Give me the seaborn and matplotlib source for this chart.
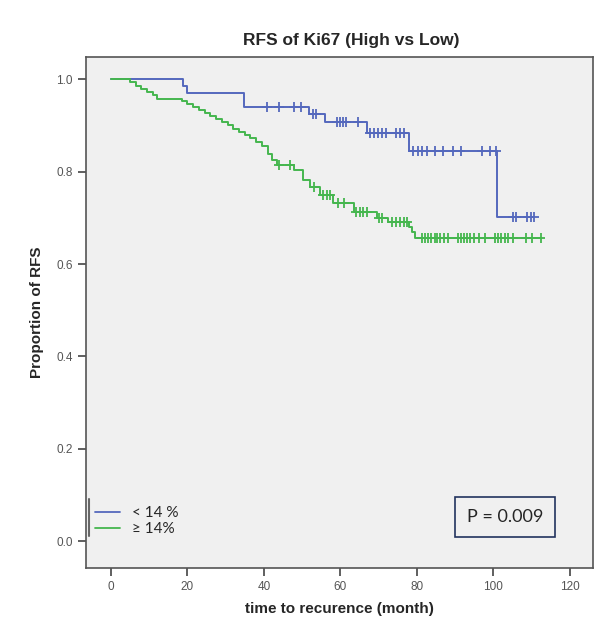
import numpy as np
import pandas as pd
import matplotlib
matplotlib.use("Agg")
import matplotlib.pyplot as plt
import seaborn as sns
from matplotlib.lines import Line2D

# ---- data (months, proportion RFS) ----
low_event_t = [0, 18.8, 19.8, 34.8, 51.8, 56.0, 67.0, 78.0, 101.0]
low_event_s = [1.0, 0.985, 0.970, 0.940, 0.925, 0.908, 0.884, 0.845, 0.702]
low_end = 110.5
low_censor_t = [40.8, 44.0, 47.9, 49.7, 52.8, 53.7, 59.2, 60.0, 60.7, 61.5, 64.6,
                67.8, 68.8, 69.9, 70.9, 72.0, 74.6, 75.7, 76.7,
                79.0, 80.4, 81.4, 82.7, 84.6, 86.9, 89.3, 91.4, 97.1, 99.2, 100.6,
                105.2, 105.8, 108.9, 109.7, 110.5]

high_event_t = [0, 5.0, 6.5, 8.0, 9.5, 11.0, 12.0,
                18.6, 20.0, 21.5, 23.0, 24.5, 26.0, 27.5, 29.0, 30.5, 32.0,
                33.5, 35.0, 36.5, 38.0, 39.5, 41.0, 42.2, 43.4,
                48.0, 50.3, 52.0, 54.7, 58.0, 63.5, 69.5, 72.5, 78.0, 78.8, 79.6]
high_event_s = [1.0, 0.993, 0.986, 0.979, 0.972, 0.965, 0.958,
                0.952, 0.946, 0.940, 0.934, 0.928, 0.921, 0.914, 0.907, 0.900, 0.893,
                0.886, 0.879, 0.872, 0.864, 0.856, 0.838, 0.826, 0.815,
                0.804, 0.782, 0.767, 0.750, 0.732, 0.713, 0.700, 0.691, 0.680, 0.669, 0.657]
high_end = 112.3
high_censor_t = [44.0, 46.9, 53.0, 55.5, 56.5, 57.3, 59.5, 61.0, 64.0, 65.0, 66.0, 67.0,
                 70.0, 71.0, 73.5, 74.5, 75.5, 76.5, 77.3,
                 81.4, 82.2, 83.0, 83.8, 84.6, 85.3, 86.1, 87.2, 88.2, 90.8, 91.6,
                 92.4, 93.2, 94.0, 95.0, 96.1, 97.9, 100.5, 101.3, 102.1, 103.1,
                 103.9, 105.2, 108.4, 110.2, 112.3]

groups = ["< 14 %", "\u2265 14%"]
colors = ["#5468bd", "#45b64e"]
p_text = "P = 0.009"


def curve_frame(label, t, s, end):
    tt = list(t) + [end]
    ss = list(s) + [s[-1]]
    return pd.DataFrame({"time": tt, "surv": ss, "group": label})


def censor_frame(label, t, s, ct):
    idx = np.searchsorted(t, ct, side="right") - 1
    return pd.DataFrame({"time": ct, "surv": np.array(s)[idx], "group": label})


curves = pd.concat([curve_frame(groups[0], low_event_t, low_event_s, low_end),
                    curve_frame(groups[1], high_event_t, high_event_s, high_end)])
censors = pd.concat([censor_frame(groups[0], low_event_t, low_event_s, low_censor_t),
                     censor_frame(groups[1], high_event_t, high_event_s, high_censor_t)])

sns.set_style("white")
plt.rcParams["font.family"] = ["Liberation Sans", "DejaVu Sans"]

fig = plt.figure(figsize=(5.95, 6.30), dpi=100)
ax = fig.add_axes([0.1445, 0.0984, 0.852, 0.811])
ax.set_facecolor("#f0f0f0")

palette = dict(zip(groups, colors))
sns.lineplot(data=curves, x="time", y="surv", hue="group", palette=palette,
             drawstyle="steps-post", estimator=None, linewidth=1.4,
             legend=False, ax=ax)
sns.scatterplot(data=censors, x="time", y="surv", hue="group", palette=palette,
                marker="+", s=50, linewidth=1.3, legend=False, ax=ax)

ax.set_xlim(-6.5, 126)
ax.set_ylim(-0.058, 1.048)
ax.set_xticks(np.arange(0, 121, 20))
ax.set_yticks(np.arange(0, 1.01, 0.2))
ax.set_yticklabels([f"{v:.1f}" for v in np.arange(0, 1.01, 0.2)])
ax.tick_params(axis="both", direction="out", length=6, width=1.2,
               color="#444444", labelcolor="#555555", labelsize=8.5,
               bottom=True, left=True)
for sp in ax.spines.values():
    sp.set_color("#555555")
    sp.set_linewidth(1.2)

ax.set_xlabel("time to recurence (month)", fontsize=11, fontweight="bold",
              labelpad=6)
ax.set_ylabel("Proportion of RFS", fontsize=11, fontweight="bold", labelpad=9)
fig.text(0.59, 0.935, "RFS of Ki67 (High vs Low)", fontsize=12.5,
         fontweight="bold", ha="center", va="center")

handles = [Line2D([], [], color=c, lw=1.3) for c in colors]
leg = ax.legend(handles, groups, loc="lower left", bbox_to_anchor=(0.0, 0.045),
                frameon=False, handlelength=1.6, handletextpad=0.8,
                labelspacing=0.1, borderaxespad=0.2,
                prop={"family": ["Lato", "DejaVu Sans"], "size": 11})
ax.plot([0.006, 0.006], [0.063, 0.135], transform=ax.transAxes,
        color="#666666", lw=1.5, clip_on=False)

ax.text(0.826, 0.1, p_text, transform=ax.transAxes, ha="center", va="center",
        fontsize=13, family=["Lato", "DejaVu Sans"],
        bbox=dict(boxstyle="square,pad=0.65", facecolor="#f0f0f0",
                  edgecolor="#22335e", linewidth=1.2))

fig.savefig("out.png", dpi=100, facecolor="white")
